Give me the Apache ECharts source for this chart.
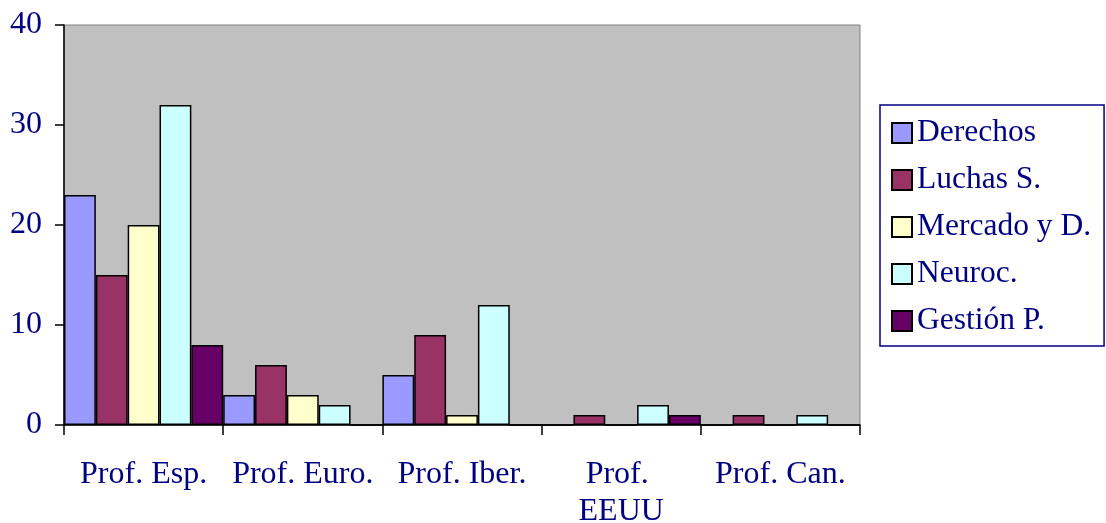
<!DOCTYPE html>
<html>
<head>
<meta charset="utf-8">
<script src="https://cdn.jsdelivr.net/npm/echarts@6/dist/echarts.min.js"></script>
<style>
html,body{margin:0;padding:0;background:#fff;}
#chart{width:1106px;height:523px;}
</style>
</head>
<body>
<div id="chart"></div>
<script>
const categories = ["Prof. Esp.", "Prof. Euro.", "Prof. Iber.", "Prof. EEUU", "Prof. Can."];
const seriesNames = ["Derechos", "Luchas S.", "Mercado y D.", "Neuroc.", "Gestión P."];
const derechos = [23, 3, 5, 0, 0];
const luchas = [15, 6, 9, 1, 1];
const mercado = [20, 3, 1, 0, 0];
const neuroc = [32, 2, 12, 2, 1];
const gestion = [8, 0, 0, 1, 0];
const yTicks = [0, 10, 20, 30, 40];

const colors = ["#9999FF", "#993366", "#FFFFCC", "#CCFFFF", "#660066"];
const values = [derechos, luchas, mercado, neuroc, gestion];
const font = '"Liberation Serif", "Times New Roman", serif';
const navy = "#000080";

const chart = echarts.init(document.getElementById('chart'));
chart.setOption({
  animation: false,
  grid: {
    left: 64, right: 246, top: 25, bottom: 98,
    outerBoundsMode: 'none', containLabel: false,
    show: true, backgroundColor: "#C0C0C0", borderColor: "#808080", borderWidth: 1
  },
  legend: {
    orient: 'vertical',
    left: 880, top: 105,
    padding: [11, 13, 8, 11],
    itemWidth: 20, itemHeight: 20, itemGap: 13,
    borderColor: navy, borderWidth: 1.5, backgroundColor: "#fff",
    icon: 'rect',
    textStyle: { fontFamily: font, fontSize: 31.5, color: navy, lineHeight: 34 },
    data: seriesNames
  },
  xAxis: {
    type: 'category',
    data: categories,
    axisLine: { lineStyle: { color: "#000", width: 1.5 } },
    axisTick: { show: true, length: 10, lineStyle: { color: "#000", width: 1.5 } },
    axisLabel: {
      fontFamily: font, fontSize: 32, color: navy, margin: 31,
      lineHeight: 37, interval: 0, width: 147, overflow: 'break'
    },
    splitLine: { show: false }
  },
  yAxis: {
    type: 'value',
    min: yTicks[0], max: yTicks[yTicks.length - 1], interval: 10,
    axisLine: { show: true, lineStyle: { color: "#000", width: 1.5 } },
    axisTick: { show: true, length: 9, lineStyle: { color: "#000", width: 1.5 } },
    axisLabel: { fontFamily: font, fontSize: 32, color: navy, margin: 22 },
    splitLine: { show: false }
  },
  series: seriesNames.map((name, i) => ({
    name: name,
    type: 'bar',
    data: values[i],
    barGap: '0%',
    barCategoryGap: '0%',
    itemStyle: { color: colors[i], borderColor: "#000", borderWidth: 1.5 }
  }))
});
</script>
</body>
</html>
